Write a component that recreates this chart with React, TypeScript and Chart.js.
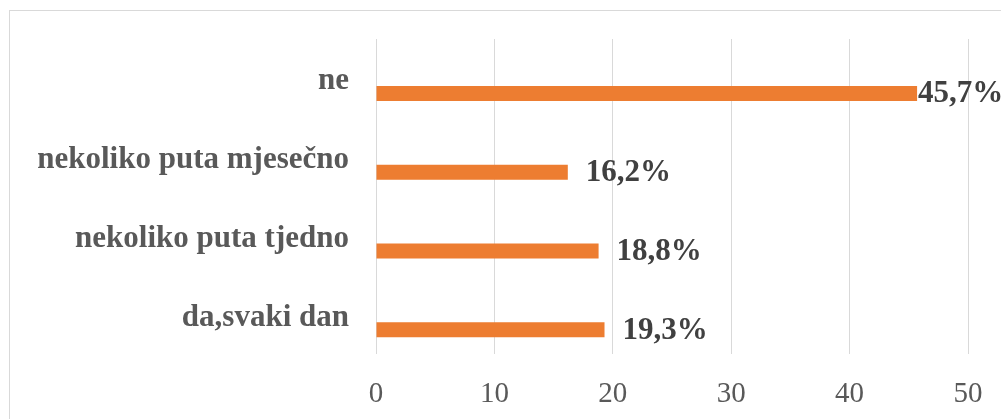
import React, { useEffect, useRef } from "react";
import { Chart, registerables } from "chart.js";

Chart.register(...registerables);

const categories = ["ne", "nekoliko puta mjesečno", "nekoliko puta tjedno", "da,svaki dan"];
const values = [45.7, 16.2, 18.8, 19.3];
const valueLabels = ["45,7%", "16,2%", "18,8%", "19,3%"];
const xTicks = [0, 10, 20, 30, 40, 50];

const W = 1001;
const H = 419;

export default function App() {
  const ref = useRef<HTMLCanvasElement | null>(null);

  useEffect(() => {
    document.body.style.margin = "0";
    const canvas = ref.current;
    if (!canvas) return;

    const borderPlugin = {
      id: "outerBorder",
      beforeDraw(chart: any) {
        const ctx = chart.ctx;
        ctx.save();
        ctx.fillStyle = "#ffffff";
        ctx.fillRect(0, 0, W, H);
        ctx.strokeStyle = "#D9D9D9";
        ctx.lineWidth = 1;
        ctx.strokeRect(9.5, 10.5, 2000, 1000);
        ctx.restore();
      },
    };

    const labelPlugin = {
      id: "valueLabels",
      afterDatasetsDraw(chart: any) {
        const ctx = chart.ctx;
        const meta = chart.getDatasetMeta(1);
        ctx.save();
        ctx.font = "bold 31px 'Liberation Serif'";
        ctx.fillStyle = "#404040";
        ctx.textBaseline = "middle";
        ctx.textAlign = "left";
        meta.data.forEach((bar: any, i: number) => {
          const text = valueLabels[i];
          const w = ctx.measureText(text).width;
          let x = bar.x + 18;
          if (x + w > W) x = Math.max(bar.x + 1, W - w);
          ctx.fillText(text, x, bar.y + 1);
        });
        ctx.restore();
      },
    };

    const chart = new Chart(canvas, {
      type: "bar",
      data: {
        labels: categories,
        datasets: [
          {
            data: categories.map(() => null),
            backgroundColor: "rgba(0,0,0,0)",
          },
          {
            data: values,
            backgroundColor: "#ED7D31",
          },
        ],
      },
      options: {
        indexAxis: "y",
        responsive: false,
        animation: false,
        categoryPercentage: 0.762,
        barPercentage: 0.5,
        layout: { padding: { top: 39, right: 33, left: 0, bottom: 0 } },
        plugins: {
          legend: { display: false },
          tooltip: { enabled: false },
          title: { display: false },
        },
        scales: {
          x: {
            min: 0,
            max: 50,
            afterFit(scale: any) {
              scale.height = 65;
              scale.paddingLeft = 0;
              scale.paddingRight = 0;
            },
            afterBuildTicks(scale: any) {
              scale.ticks = xTicks.map((v) => ({ value: v }));
            },
            grid: { color: "#D9D9D9", lineWidth: 1, drawTicks: false },
            border: { display: false },
            ticks: {
              padding: 23,
              color: "#595959",
              font: { family: "'Liberation Serif'", size: 29 },
            },
          },
          y: {
            afterFit(scale: any) {
              scale.width = 376;
              scale.paddingTop = 0;
              scale.paddingBottom = 0;
            },
            grid: { display: false, drawTicks: false },
            border: { display: false },
            ticks: {
              padding: 27,
              labelOffset: 3,
              color: "#595959",
              font: { family: "'Liberation Serif'", size: 31, weight: "bold" },
            },
          },
        },
      },
      plugins: [borderPlugin, labelPlugin],
    });

    return () => chart.destroy();
  }, []);

  return <canvas ref={ref} width={W} height={H} style={{ display: "block", width: W, height: H }} />;
}
